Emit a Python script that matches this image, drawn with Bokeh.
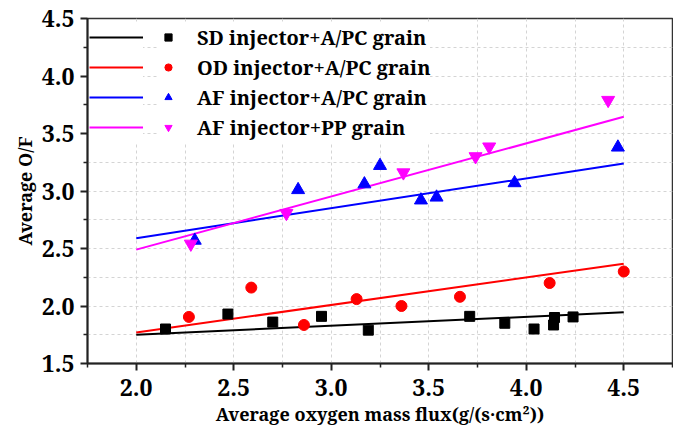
from bokeh.plotting import figure
from bokeh.models import FixedTicker, PrintfTickFormatter, Legend, LegendItem, Range1d
from bokeh.embed import file_html
from bokeh.resources import INLINE

# ---- data ----
sd_x = [2.15, 2.47, 2.70, 2.95, 3.19, 3.71, 3.89, 4.04, 4.145, 4.14, 4.24]
sd_y = [1.80, 1.93, 1.86, 1.91, 1.79, 1.91, 1.85, 1.80, 1.90, 1.835, 1.905]
od_x = [2.27, 2.59, 2.86, 3.13, 3.36, 3.66, 4.12, 4.50]
od_y = [1.905, 2.16, 1.835, 2.06, 2.00, 2.08, 2.20, 2.30]
afa_x = [2.30, 2.83, 3.17, 3.25, 3.46, 3.54, 3.94, 4.47]
afa_y = [2.57, 3.01, 3.06, 3.22, 2.92, 2.945, 3.07, 3.38]
afpp_x = [2.28, 2.77, 3.37, 3.74, 3.81, 4.42]
afpp_y = [2.54, 2.807, 3.16, 3.30, 3.385, 3.79]

fit_x = [2.0, 4.5]
sd_fit = [1.75, 1.945]
od_fit = [1.77, 2.367]
afa_fit = [2.59, 3.24]
afpp_fit = [2.49, 3.645]

labels = ["SD injector+A/PC grain", "OD injector+A/PC grain",
          "AF injector+A/PC grain", "AF injector+PP grain"]
x_ticks = [2.0, 2.5, 3.0, 3.5, 4.0, 4.5]
x_minor = [1.75, 2.25, 2.75, 3.25, 3.75, 4.25, 4.75]
y_ticks = [1.5, 2.0, 2.5, 3.0, 3.5, 4.0, 4.5]
y_minor = [1.75, 2.25, 2.75, 3.25, 3.75, 4.25]

FONT = "Noto Serif"
BLACK, RED, BLUE, MAG = "#000000", "#ff0000", "#0000ff", "#ff00ff"

p = figure(width=673, height=428, output_backend="svg", toolbar_location=None,
           x_range=Range1d(1.75, 4.75), y_range=Range1d(1.5, 4.5),
           min_border_left=87, min_border_right=1, min_border_top=18, min_border_bottom=64)
p.background_fill_color = "white"
p.border_fill_color = "white"
p.outline_line_color = "#333333"
p.outline_line_width = 1.5

for ax, ticks, minor in ((p.xaxis[0], x_ticks, x_minor), (p.yaxis[0], y_ticks, y_minor)):
    ax.ticker = FixedTicker(ticks=ticks, minor_ticks=minor)
    ax.formatter = PrintfTickFormatter(format="%.1f")
    ax.major_label_text_font = FONT
    ax.major_label_text_font_style = "bold"
    ax.major_label_text_font_size = "23px"
    ax.major_label_text_color = "black"
    ax.axis_label_text_font = FONT
    ax.axis_label_text_font_style = "bold"
    ax.axis_label_text_font_size = "18px"
    ax.axis_label_text_color = "black"
    ax.axis_line_width = 2
    ax.axis_line_color = "#222222"
    ax.major_tick_line_width = 2
    ax.major_tick_line_color = "#222222"
    ax.minor_tick_line_width = 1.5
    ax.minor_tick_line_color = "#222222"
    ax.major_tick_out = 7
    ax.major_tick_in = 0
    ax.minor_tick_out = 4
    ax.minor_tick_in = 0

p.xaxis.axis_label = "Average oxygen mass flux(g/(s\u00b7cm\u00b2))"
p.yaxis.axis_label = "Average O/F"
p.xaxis.major_label_standoff = 8
p.xaxis.axis_label_standoff = 3
p.yaxis.major_label_standoff = 6
p.yaxis.axis_label_standoff = 2

for g in (p.xgrid[0], p.ygrid[0]):
    g.grid_line_color = "#d4d4d4"
    g.grid_line_dash = "3 3"
    g.grid_line_width = 1
    g.minor_grid_line_color = "#d4d4d4"
    g.minor_grid_line_dash = "3 3"
    g.minor_grid_line_width = 1

l_sd = p.line(fit_x, sd_fit, line_color=BLACK, line_width=2)
l_od = p.line(fit_x, od_fit, line_color=RED, line_width=2)
l_afa = p.line(fit_x, afa_fit, line_color=BLUE, line_width=2)
l_afpp = p.line(fit_x, afpp_fit, line_color=MAG, line_width=2)

m_sd = p.scatter(sd_x, sd_y, marker="square", size=10, fill_color=BLACK, line_color=BLACK)
m_od = p.scatter(od_x, od_y, marker="circle", size=11, fill_color=RED, line_color=RED)
m_afa = p.scatter(afa_x, afa_y, marker="triangle", size=13, fill_color=BLUE, line_color=BLUE)
m_afpp = p.scatter(afpp_x, afpp_y, marker="inverted_triangle", size=13, fill_color=MAG, line_color=MAG)

def style_legend(lg):
    lg.label_text_font = FONT
    lg.label_text_font_style = "bold"
    lg.label_text_font_size = "20px"
    lg.label_text_color = "black"
    lg.label_height = 30
    lg.glyph_height = 30
    lg.spacing = 0
    lg.padding = 5
    lg.margin = 0
    lg.border_line_color = None
    lg.background_fill_color = "white"
    lg.background_fill_alpha = 1.0

leg_lines = Legend(items=[LegendItem(label=" ", renderers=[r]) for r in (l_sd, l_od, l_afa, l_afpp)],
                   location=(2, 221))
style_legend(leg_lines)
leg_lines.glyph_width = 54
leg_lines.label_standoff = 0
leg_lines.label_width = 0

leg_marks = Legend(items=[LegendItem(label=t, renderers=[r]) for t, r in zip(labels, (m_sd, m_od, m_afa, m_afpp))],
                   location=(72, 221))
style_legend(leg_marks)
leg_marks.glyph_width = 18
leg_marks.label_standoff = 20

p.add_layout(leg_lines, "center")
p.add_layout(leg_marks, "center")

open("out.html", "w").write(file_html(p, INLINE))
